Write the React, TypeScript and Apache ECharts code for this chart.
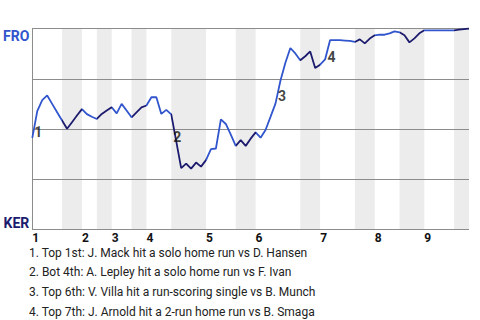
import React, { useEffect, useRef } from "react";
import * as echarts from "echarts";

// Half-inning boundaries in plate-appearance units (top1 start, bot1 start, top2 start, ...)
const HALF_BOUNDS = [0, 6, 10, 13, 16, 20, 23, 28, 35, 41, 45, 54, 58, 65, 69, 74, 79, 85, 88];
const INNINGS = ["1", "2", "3", "4", "5", "6", "7", "8", "9"];

// Win probability for FRO (%) after each plate appearance
const WIN_PROB = [
  45.6, 58.9, 64.4, 66.7, 62.5, 58.3, 54.2, 50.1, 53.4, 56.7,
  59.9, 57.4, 56.1, 55.0, 57.5, 59.2, 60.8, 57.8, 62.5, 59.2,
  55.8, 58.3, 60.8, 61.7, 65.8, 65.8, 57.5, 59.5, 57.3, 44.0,
  30.5, 32.8, 30.3, 33.3, 31.3, 34.5, 40.0, 40.3, 54.8, 52.5,
  47.2, 41.6, 44.5, 41.6, 45.2, 48.3, 45.7, 49.5, 56.0, 62.6,
  74.0, 83.0, 90.3, 87.6, 84.2, 86.2, 88.6, 80.3, 82.0, 84.6,
  94.2, 94.2, 94.2, 94.0, 93.8, 93.3, 94.6, 92.6, 95.0, 96.6,
  97.0, 96.9, 97.6, 98.6, 98.1, 96.6, 93.1, 95.1, 97.6, 99.1,
  99.1, 99.1, 99.1, 99.1, 99.1, 99.1, 99.4, 99.7, 100.0,
];

const EVENT_NAMES = ["1", "2", "3", "4"];
const EVENT_X = [1.2, 29.2, 50.3, 60.3];
const EVENT_Y = [48.5, 46.0, 66.4, 85.7];
const EVENT_TEXTS = [
  "1. Top 1st: J. Mack hit a solo home run vs D. Hansen",
  "2. Bot 4th: A. Lepley hit a solo home run vs F. Ivan",
  "3. Top 6th: V. Villa hit a run-scoring single vs B. Munch",
  "4. Top 7th: J. Arnold hit a 2-run home run vs B. Smaga",
];

const TEAM_TOP = "FRO";
const TEAM_BOTTOM = "KER";

const BLUE = "#3155cc";
const NAVY = "#1c1b6e";
const BAND = "#ececec";
const GRID = "#8c8c8c";

export default function App() {
  const ref = useRef<HTMLDivElement>(null);

  useEffect(() => {
    const chart = echarts.init(ref.current!, null, { renderer: "svg" });

    const inningStarts = HALF_BOUNDS.filter((_, i) => i % 2 === 0 && i < HALF_BOUNDS.length - 1);
    const bottomHalves: number[][] = [];
    for (let i = 1; i < HALF_BOUNDS.length - 1; i += 2) {
      bottomHalves.push([HALF_BOUNDS[i], HALF_BOUNDS[i + 1]]);
    }

    const option: any = {
      animation: false,
      textStyle: { fontFamily: "Roboto" },
      grid: { left: 29, top: 28.5, width: 440, height: 201 },
      xAxis: {
        type: "value",
        min: 0,
        max: HALF_BOUNDS[HALF_BOUNDS.length - 1],
        z: 2,
        axisLine: { show: false },
        axisTick: { show: false },
        splitLine: { show: false },
        axisLabel: {
          customValues: inningStarts,
          formatter: (v: number) => INNINGS[inningStarts.indexOf(v)] ?? "",
          align: "left",
          margin: 2,
          fontWeight: "bold",
          fontSize: 12,
          color: "#111",
          fontFamily: "Roboto",
        },
      },
      yAxis: {
        type: "value",
        min: 0,
        max: 100,
        interval: 25,
        z: 2,
        axisLine: { show: true, lineStyle: { color: GRID, width: 1 } },
        axisTick: { show: false },
        splitLine: { show: true, lineStyle: { color: GRID, width: 1 } },
        axisLabel: {
          margin: 3,
          verticalAlignMaxLabel: "top",
          verticalAlignMinLabel: "bottom",
          formatter: (v: number) =>
            v === 100 ? `{top|${TEAM_TOP}}` : v === 0 ? `{bot|${TEAM_BOTTOM}}` : "",
          rich: {
            top: { color: BLUE, fontWeight: "bold", fontSize: 14, fontFamily: "Roboto" },
            bot: { color: NAVY, fontWeight: "bold", fontSize: 14, fontFamily: "Roboto" },
          },
        },
      },
      visualMap: {
        show: false,
        type: "piecewise",
        seriesIndex: 1,
        dimension: 0,
        pieces: bottomHalves.map(([s, e]) => ({ gte: s, lte: e, color: NAVY })),
        outOfRange: { color: BLUE },
      },
      series: [
        {
          type: "custom",
          z: 1,
          silent: true,
          data: bottomHalves,
          encode: { x: [0, 1] },
          renderItem: (_params: any, api: any) => {
            const a = api.coord([api.value(0), 100]);
            const b = api.coord([api.value(1), 0]);
            return {
              type: "rect",
              shape: { x: a[0], y: a[1], width: b[0] - a[0], height: b[1] - a[1] },
              style: { fill: BAND },
            };
          },
        },
        {
          type: "line",
          z: 3,
          silent: true,
          showSymbol: false,
          data: WIN_PROB.map((p, i) => [i, p]),
          lineStyle: { width: 1.8 },
        },
        {
          type: "scatter",
          z: 4,
          silent: true,
          symbolSize: 0,
          data: EVENT_NAMES.map((n, i) => ({ name: n, value: [EVENT_X[i], EVENT_Y[i]] })),
          label: {
            show: true,
            position: "inside",
            formatter: "{b}",
            fontWeight: "bold",
            fontSize: 14,
            color: "#111",
            fontFamily: "Roboto",
          },
        },
      ],
      graphic: EVENT_TEXTS.map((t, i) => ({
        type: "text",
        x: 29,
        y: 252.5 + i * 19.8,
        silent: true,
        style: {
          text: t,
          fontSize: 12,
          fontFamily: "Roboto",
          fill: "#222",
          verticalAlign: "middle",
        },
      })),
    };

    chart.setOption(option);
    return () => chart.dispose();
  }, []);

  return (
    <div
      ref={ref}
      style={{ position: "absolute", left: 0, top: 0, width: 480, height: 320 }}
    />
  );
}
